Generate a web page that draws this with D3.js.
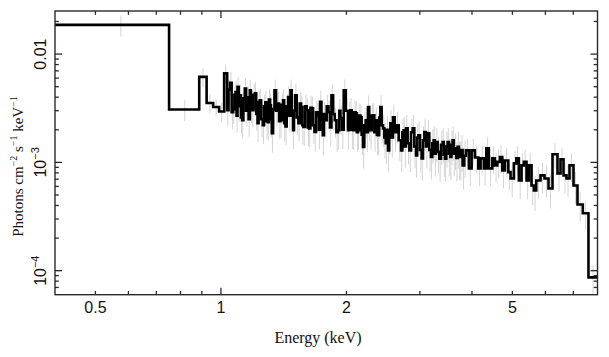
<!DOCTYPE html>
<html><head><meta charset="utf-8">
<script src="https://cdn.jsdelivr.net/npm/d3@7"></script>
<style>body{margin:0;background:#fff}</style>
</head><body>
<svg id="c" width="609" height="357"></svg>
<script>
// Bin edges (keV), n+1 values
const binEdges = [0.4,0.751,0.887,0.924,0.958,0.990,1.018,1.035,
1.043,1.052,1.061,1.070,1.077,1.084,1.090,1.096,1.103,1.110,1.117,1.124,1.132,1.141,1.149,1.158,1.165,1.173,1.180,1.188,
1.197,1.206,1.215,1.224,1.231,1.239,1.249,1.260,1.269,1.278,1.286,1.295,1.303,1.312,1.318,1.324,1.334,1.344,1.356,1.369,
1.379,1.389,1.399,1.409,1.418,1.428,1.438,1.449,1.458,1.468,1.478,1.489,1.497,1.506,1.520,1.534,1.545,1.557,1.567,1.577,
1.591,1.606,1.616,1.627,1.639,1.651,1.663,1.676,1.691,1.707,1.718,1.729,1.742,1.755,1.766,1.777,1.794,1.811,1.826,1.841,
1.858,1.875,1.892,1.909,1.922,1.935,1.952,1.970,1.993,2.017,2.030,2.044,2.059,2.074,2.089,2.105,2.118,2.132,2.146,2.160,
2.175,2.191,2.207,2.224,2.238,2.253,2.268,2.283,2.299,2.316,2.333,2.351,2.366,2.381,2.396,2.412,2.429,2.447,2.465,2.484,
2.500,2.516,2.532,2.549,2.567,2.586,2.610,2.635,2.669,2.703,2.723,2.743,2.760,2.778,2.804,2.831,2.857,2.883,2.909,2.936,
2.955,2.975,3.002,3.029,3.052,3.075,3.103,3.131,3.160,3.189,3.213,3.237,3.257,3.278,3.309,3.340,3.371,3.402,3.423,3.445,
3.471,3.497,3.523,3.549,3.571,3.594,3.617,3.640,3.667,3.695,3.722,3.750,3.774,3.798,3.833,3.868,
3.933,3.992,4.065,4.142,4.195,4.272,4.329,4.391,4.475,4.539,4.600,4.666,4.728,4.797,4.888,4.950,5.041,5.108,5.182,5.259,
5.327,5.406,5.475,5.558,5.629,5.704,5.840,5.970,6.104,6.240,6.414,6.522,6.631,6.741,6.854,7.007,7.163,7.376,7.611,8.0];
// Flux per bin (photons cm^-2 s^-1 keV^-1)
const flux = [0.0186,0.00308,0.00616,0.00354,0.00325,0.00295,0.00663,
0.00303,0.00470,0.00542,0.00290,0.00310,0.00420,0.00445,0.00270,0.00498,0.00330,
0.00417,0.00260,0.00245,0.00390,0.00481,0.00300,0.00400,0.00250,0.00464,0.00320,
0.00303,0.00420,0.00435,0.00280,0.00230,0.00360,0.00375,0.00250,0.00220,0.00330,
0.00359,0.00240,0.00235,0.00380,0.00337,0.00250,0.00186,0.00310,0.00464,0.00300,
0.00350,0.00240,0.00245,0.00340,0.00375,0.00230,0.00215,0.00330,0.00402,0.00270,
0.00464,0.00290,0.00198,0.00300,0.00417,0.00260,0.00230,0.00350,0.00325,0.00220,
0.00212,0.00330,0.00303,0.00210,0.00206,0.00320,0.00316,0.00220,0.00191,0.00290,
0.00272,0.00200,0.00362,0.00250,0.00178,0.00280,0.00245,0.00330,0.00290,0.00210,
0.00417,0.00280,0.00245,0.00190,0.00198,0.00300,0.00256,0.00200,0.00464,0.00300,
0.00198,0.00280,0.00303,0.00200,0.00198,0.00290,0.00284,0.00190,0.00198,0.00270,
0.00261,0.00180,0.00139,0.00220,0.00245,0.00190,0.00325,0.00230,0.00198,0.00270,
0.00272,0.00190,0.00245,0.00180,0.00178,0.00260,0.00325,0.00220,0.00206,0.00170,
0.00150,0.00200,0.00129,0.00180,0.00230,0.00170,0.00261,0.00190,0.00220,0.00160,
0.00129,0.00190,0.00198,0.00140,0.00206,0.00150,0.00129,0.00190,0.00206,0.00140,
0.00116,0.00170,0.00178,0.00130,0.00109,0.00160,0.00191,0.00140,0.00186,0.00130,
0.00112,0.00150,0.00160,0.00120,0.00154,0.00125,0.00108,0.00145,0.00154,0.00118,
0.00108,0.00140,0.00154,0.00120,0.00112,0.00145,0.00160,0.00120,0.00135,0.00110,
0.00139,0.00112,0.00112,0.00130,0.000938,0.00115,
0.00129,0.000880,0.00129,0.00111,0.000880,0.00109,0.000880,0.00135,0.000880,0.00109,
0.000938,0.00101,0.00112,0.000843,0.00104,0.000813,0.000711,0.000979,0.00109,0.000681,
0.000938,0.00101,0.000681,0.000938,0.000612,0.000550,0.000681,0.000758,0.000711,0.000574,
0.00119,0.000791,0.00107,0.000758,0.000711,0.000938,0.000612,0.000408,0.000339,0.0000867];
// Relative 1-sigma error per bin
const relErr = [0.22,0.22,0.2,0.2,0.18,0.2,0.2,
0.28,0.24,0.26,0.3,0.27,0.25,0.26,0.3,0.24,0.28,
0.26,0.3,0.32,0.26,0.25,0.29,0.27,0.32,0.25,0.28,
0.3,0.26,0.26,0.3,0.33,0.27,0.27,0.32,0.33,0.28,
0.27,0.32,0.32,0.26,0.28,0.32,0.34,0.28,0.25,0.29,
0.27,0.32,0.31,0.27,0.26,0.33,0.33,0.28,0.26,0.3,
0.25,0.29,0.33,0.28,0.26,0.31,0.32,0.27,0.28,0.33,
0.33,0.27,0.29,0.33,0.33,0.28,0.28,0.33,0.34,0.29,
0.3,0.34,0.27,0.31,0.35,0.29,0.31,0.28,0.29,0.33,
0.26,0.3,0.31,0.34,0.34,0.28,0.31,0.34,0.26,0.3,
0.34,0.29,0.29,0.34,0.34,0.29,0.3,0.34,0.34,0.3,
0.3,0.35,0.37,0.32,0.31,0.34,0.28,0.32,0.34,0.3,
0.3,0.34,0.31,0.35,0.35,0.3,0.28,0.32,0.33,0.36,
0.36,0.33,0.37,0.34,0.32,0.35,0.31,0.34,0.32,0.36,
0.37,0.33,0.33,0.37,0.33,0.36,0.37,0.33,0.33,0.37,
0.38,0.34,0.34,0.38,0.38,0.34,0.33,0.37,0.33,0.37,
0.38,0.35,0.35,0.38,0.35,0.37,0.39,0.35,0.35,0.38,
0.39,0.36,0.35,0.38,0.39,0.35,0.35,0.38,0.37,0.39,
0.37,0.39,0.39,0.37,0.4,0.38,
0.28,0.31,0.28,0.29,0.31,0.29,0.31,0.28,0.31,0.29,
0.31,0.3,0.29,0.32,0.3,0.32,0.33,0.3,0.29,0.33,
0.31,0.3,0.33,0.31,0.34,0.35,0.33,0.32,0.33,0.35,
0.26,0.32,0.28,0.32,0.33,0.3,0.33,0.3,0.3,0.3];

const xMajorLabels = [0.5, 1, 2, 5];
const yMajorValues = [1e-4, 1e-3, 1e-2];
const yLabelBase = ["10", "10", "0.01"];
const yLabelExp = ["−4", "−3", ""];

const svg = d3.select("#c");
const L = 55, R = 597.5, T = 11, B = 294.7;
const x = d3.scaleLog().domain([0.4, 8]).range([L, R]);
const y = d3.scaleLog().domain([6e-5, 0.025]).range([B, T]);

svg.append("defs").append("clipPath").attr("id", "clip")
  .append("rect").attr("x", L).attr("y", T).attr("width", R - L).attr("height", B - T);

const n = Math.min(flux.length, binEdges.length - 1);
const bins = d3.range(n).map(i => ({lo: binEdges[i], hi: binEdges[i + 1], f: flux[i], e: relErr[i] ?? 0.3}));

const g = svg.append("g").attr("clip-path", "url(#clip)");
// error bars
g.selectAll("line.err").data(bins).join("line")
  .attr("x1", d => x((d.lo + d.hi) / 2)).attr("x2", d => x((d.lo + d.hi) / 2))
  .attr("y1", d => y(d.f * (1 + d.e))).attr("y2", d => y(d.f * (1 - d.e)))
  .attr("stroke", "#d4d4d4").attr("stroke-width", 1);

// step line
const pts = bins.map(d => [d.lo, d.f]);
pts.push([bins[n - 1].hi, bins[n - 1].f]);
const line = d3.line().x(d => x(d[0])).y(d => y(d[1])).curve(d3.curveStepAfter);
g.append("path").attr("d", line(pts)).attr("fill", "none")
  .attr("stroke", "#000").attr("stroke-width", 2.6).attr("stroke-linejoin", "miter");

// frame
const axCol = "#2a2a2a";
svg.append("rect").attr("x", L).attr("y", T).attr("width", R - L).attr("height", B - T)
  .attr("fill", "none").attr("stroke", axCol).attr("stroke-width", 1.4);

const isMajor = v => Math.abs(Math.log10(v) - Math.round(Math.log10(v))) < 1e-6;
const xt = x.ticks().filter(v => v > 0.4 + 1e-9 && v < 8 - 1e-9);
const yt = y.ticks().filter(v => v > 6e-5 * 1.0001 && v < 0.025 / 1.0001);
const MAJ = 7, MIN = 3.8;
const tk = svg.append("g").attr("stroke", axCol).attr("stroke-width", 1.3);
xt.forEach(v => {
  const len = isMajor(v) ? MAJ : MIN;
  tk.append("line").attr("x1", x(v)).attr("x2", x(v)).attr("y1", B).attr("y2", B - len);
  tk.append("line").attr("x1", x(v)).attr("x2", x(v)).attr("y1", T).attr("y2", T + len);
});
yt.forEach(v => {
  const len = isMajor(v) ? MAJ : MIN;
  tk.append("line").attr("y1", y(v)).attr("y2", y(v)).attr("x1", L).attr("x2", L + len);
  tk.append("line").attr("y1", y(v)).attr("y2", y(v)).attr("x1", R).attr("x2", R - len);
});

// x tick labels
svg.append("g").selectAll("text").data(xMajorLabels).join("text")
  .attr("x", d => x(d)).attr("y", 313.3).attr("text-anchor", "middle")
  .attr("font-family", "Liberation Sans, Arial, sans-serif").attr("font-size", 16).attr("fill", "#111")
  .text(d => String(d));

// y tick labels (rotated)
yMajorValues.forEach((v, i) => {
  const t = svg.append("text")
    .attr("transform", `translate(46,${y(v)}) rotate(-90)`)
    .attr("text-anchor", "middle")
    .attr("font-family", "Liberation Sans, Arial, sans-serif").attr("font-size", 16).attr("fill", "#111");
  t.append("tspan").text(yLabelBase[i]);
  if (yLabelExp[i]) t.append("tspan").attr("dy", -7).attr("font-size", 11).text(yLabelExp[i]);
});

// axis titles
svg.append("text").attr("x", 318).attr("y", 343).attr("text-anchor", "middle")
  .attr("font-family", "Liberation Serif, Times New Roman, serif").attr("font-size", 16).attr("fill", "#111")
  .text("Energy (keV)");

const yt2 = svg.append("text").attr("transform", "translate(23,166.5) rotate(-90)")
  .attr("text-anchor", "middle")
  .attr("font-family", "Liberation Serif, Times New Roman, serif").attr("font-size", 15).attr("fill", "#111");
yt2.append("tspan").text("Photons cm");
yt2.append("tspan").attr("dy", -6).attr("font-size", 10).text("−2");
yt2.append("tspan").attr("dy", 6).text(" s");
yt2.append("tspan").attr("dy", -6).attr("font-size", 10).text("−1");
yt2.append("tspan").attr("dy", 6).text(" keV");
yt2.append("tspan").attr("dy", -6).attr("font-size", 10).text("−1");
</script>
</body></html>
